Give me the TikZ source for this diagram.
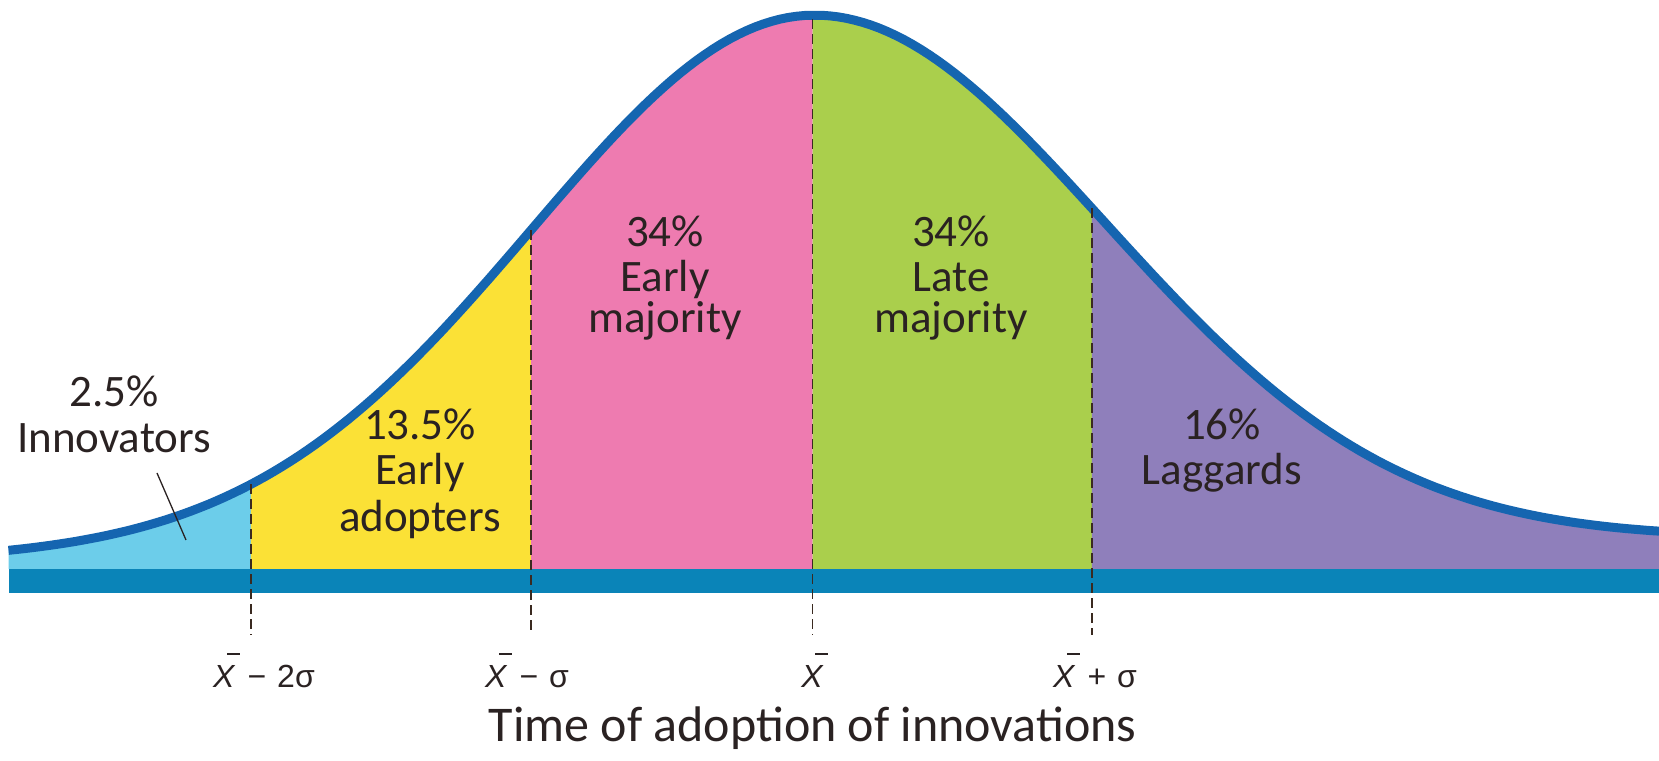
\documentclass[tikz,border=0pt]{standalone}
\usepackage{fontspec}
\setmainfont{Carlito}
\newfontfamily\axfont{Liberation Sans}
\definecolor{cinno}{HTML}{6CCDEA}
\definecolor{cyel}{HTML}{FBE136}
\definecolor{cpink}{HTML}{EE7BB0}
\definecolor{cgreen}{HTML}{AACF4C}
\definecolor{cpurp}{HTML}{8F7FBB}
\definecolor{cline}{HTML}{1565B0}
\definecolor{cbar}{HTML}{0A84B8}
\definecolor{ctext}{HTML}{2A2222}
\definecolor{cdash}{HTML}{3A2A20}
\newcommand\xbarlbl{\rlap{\kern14pt\raisebox{33pt}{\rule{13pt}{1.8pt}}}\textit{X}}
\begin{document}
\begin{tikzpicture}[x=1pt,y=1pt,
  declare function={zz(\x)=(\x-812.6)/280.4; ss(\x)=1+0.04*(zz(\x)>0);
    hh(\x)=191+19.7+3.4*zz(\x)+534*exp(-zz(\x)*zz(\x)/(2*ss(\x)*ss(\x)));},
  lbl/.style={font=\fontsize{45}{48}\selectfont, text=ctext, inner sep=0pt, anchor=base},
  axlbl/.style={font=\axfont\fontsize{32}{36}\selectfont, text=ctext, inner sep=0pt, anchor=base west},
  divline/.style={cdash, line width=1.6pt, dash pattern=on 10pt off 5pt}]
\useasboundingbox (0,0) rectangle (1659,760);
% regions
\fill[cinno] (8.5,191) -- plot[domain=8.5:250.8,samples=60] (\x,{hh(\x)}) -- (250.8,191) -- cycle;
\fill[cyel] (250.8,191) -- plot[domain=250.8:531.1,samples=60] (\x,{hh(\x)}) -- (531.1,191) -- cycle;
\fill[cpink] (531.1,191) -- plot[domain=531.1:812.6,samples=60] (\x,{hh(\x)}) -- (812.6,191) -- cycle;
\fill[cgreen] (812.6,191) -- plot[domain=812.6:1091.9,samples=60] (\x,{hh(\x)}) -- (1091.9,191) -- cycle;
\fill[cpurp] (1091.9,191) -- plot[domain=1091.9:1659,samples=80] (\x,{hh(\x)}) -- (1659,191) -- cycle;
% bar
\fill[cbar] (8.5,167) rectangle (1659,191);
% curve
\draw[cline, line width=9pt] plot[domain=8.5:1659,samples=200] (\x,{hh(\x)});
% divider coordinates
\coordinate (d1t) at (250.8,{hh(250.8)});
\coordinate (d1b) at (250.8,125);
\coordinate (d2t) at (531.1,{hh(531.1)});
\coordinate (d2b) at (531.1,125);
\coordinate (d3t) at (812.6,{hh(812.6)-4});
\coordinate (d3b) at (812.6,125);
\coordinate (d4t) at (1091.9,{hh(1091.9)});
\coordinate (d4b) at (1091.9,125);
\draw[divline] (d1t) -- (d1b);
\draw[divline] (d2t) -- (d2b);
\draw[divline] (d3t) -- (d3b);
\draw[divline] (d4t) -- (d4b);
% labels
\node[lbl] (inp) at (114,353) {2.5\%};
\node[lbl] (inn) at (114,307) {Innovators};
\coordinate (ins) at (157,287);
\coordinate (inpt) at (186,220);
\draw[ctext, line width=1.3pt] (ins) -- (inpt);
\node[lbl] (eap1) at (420,320) {13.5\%};
\node[lbl] (eap2) at (420,275) {Early};
\node[lbl] (eap3) at (420,228) {adopters};
\node[lbl] (emp1) at (665,513) {34\%};
\node[lbl] (emp2) at (665,468) {Early};
\node[lbl] (emp3) at (665,427) {majority};
\node[lbl] (lmp1) at (951,513) {34\%};
\node[lbl] (lmp2) at (951,468) {Late};
\node[lbl] (lmp3) at (951,427) {majority};
\node[lbl] (lag1) at (1222,320) {16\%};
\node[lbl] (lag2) at (1222,275) {Laggards};
% axis labels
\node[axlbl] (a1) at (213,72) {\xbarlbl\kern12pt−\kern11pt2σ};
\node[axlbl] (a2) at (485,72) {\xbarlbl\kern12pt−\kern11ptσ};
\node[axlbl, anchor=base] (a3) at (812.6,72) {\xbarlbl};
\node[axlbl] (a4) at (1053,72) {\xbarlbl\kern12pt+\kern11ptσ};
\node[lbl, font=\fontsize{50}{54}\selectfont] (ttl) at (812.6,18) {Time of adoption of innovations};
\end{tikzpicture}
\end{document}
